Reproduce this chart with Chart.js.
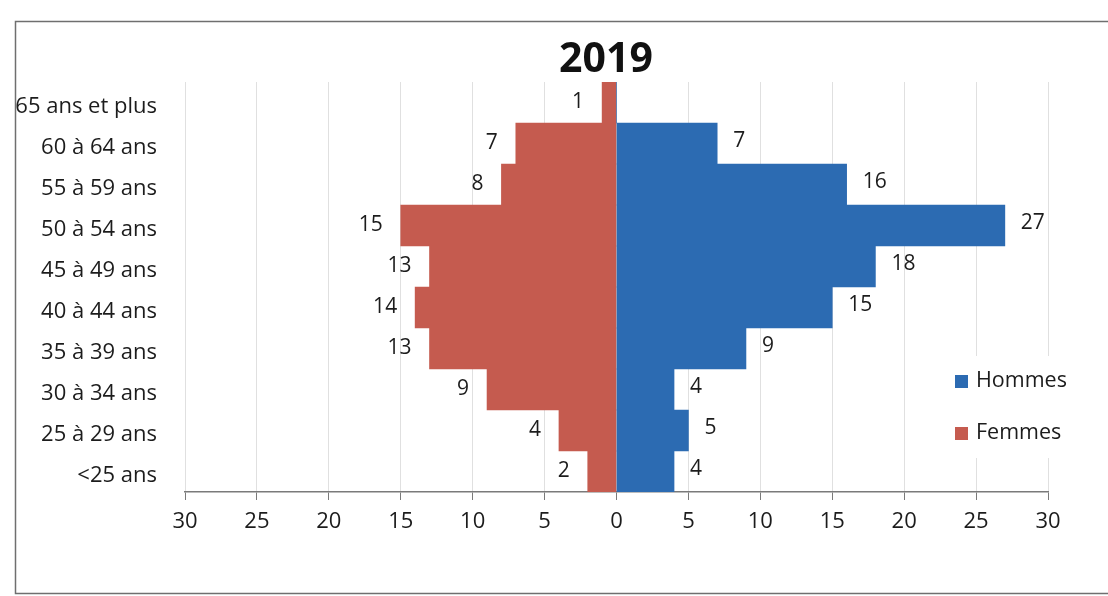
<!DOCTYPE html>
<html><head><meta charset="utf-8">
<script src="https://cdn.jsdelivr.net/npm/chart.js@4"></script>
<style>html,body{margin:0;padding:0;background:#fff}#wrap{width:1108px;height:596px;position:relative}</style>
</head><body><div id="wrap"><canvas id="c" width="1108" height="596"></canvas></div>
<script>
const categories = ["65 ans et plus","60 à 64 ans","55 à 59 ans","50 à 54 ans","45 à 49 ans","40 à 44 ans","35 à 39 ans","30 à 34 ans","25 à 29 ans","<25 ans"];
const hommes = [0,7,16,27,18,15,9,4,5,4];
const femmes = [1,7,8,15,13,14,13,9,4,2];
const titleText = "2019";
const seriesNames = ["Hommes","Femmes"];

const FONT = "'Open Sans', sans-serif";
const TEXT = '#1c1c1c';

const framePlugin = {
  id: 'frame',
  beforeDraw(chart) {
    const ctx = chart.ctx;
    ctx.save();
    ctx.fillStyle = '#fff';
    ctx.fillRect(0,0,chart.width,chart.height);
    ctx.strokeStyle = '#6f6f6f';
    ctx.lineWidth = 1.5;
    ctx.strokeRect(15.5, 21.5, 1110, 572);
    ctx.restore();
  }
};

const titlePlugin = {
  id: 'titleText',
  afterDraw(chart) {
    const ctx = chart.ctx;
    ctx.save();
    ctx.font = "bold 41px " + FONT;
    ctx.fillStyle = '#111';
    ctx.textAlign = 'center';
    ctx.textBaseline = 'middle';
    ctx.fillText(titleText, 606, 60);
    ctx.restore();
  }
};

const labelPlugin = {
  id: 'valLabels',
  afterDatasetsDraw(chart) {
    const ctx = chart.ctx;
    ctx.save();
    ctx.font = "21px " + FONT;
    ctx.fillStyle = TEXT;
    ctx.textBaseline = 'middle';
    chart.data.datasets.forEach((ds, di) => {
      const meta = chart.getDatasetMeta(di);
      meta.data.forEach((bar, i) => {
        const v = ds.data[i];
        if (!v) return;
        const txt = String(Math.abs(v));
        if (v > 0) { ctx.textAlign = 'left'; ctx.fillText(txt, bar.x + 16, bar.y - 2); }
        else { ctx.textAlign = 'right'; ctx.fillText(txt, bar.x - 18, bar.y); }
      });
    });
    ctx.restore();
  }
};

const legendPlugin = {
  id: 'customLegend',
  afterDraw(chart) {
    const ctx = chart.ctx;
    ctx.save();
    ctx.fillStyle = '#fff';
    ctx.fillRect(922, 356, 186, 102);
    ctx.font = "21.5px " + FONT;
    ctx.textBaseline = 'middle';
    ctx.textAlign = 'left';
    chart.data.datasets.forEach((ds, i) => {
      const y = 381 + i * 52;
      ctx.fillStyle = ds.backgroundColor;
      ctx.fillRect(955, y - 6, 13, 13);
      ctx.fillStyle = TEXT;
      ctx.fillText(ds.label, 976, y);
    });
    ctx.restore();
  }
};

new Chart(document.getElementById('c'), {
  type: 'bar',
  data: {
    labels: categories,
    datasets: [
      { label: seriesNames[0], data: hommes, backgroundColor: '#2C6BB2', barPercentage: 1, categoryPercentage: 1, borderWidth: 0 },
      { label: seriesNames[1], data: femmes.map(v => -v), backgroundColor: '#C55B4F', barPercentage: 1, categoryPercentage: 1, borderWidth: 0 }
    ]
  },
  options: {
    indexAxis: 'y',
    responsive: false,
    animation: false,
    devicePixelRatio: 1,
    layout: { padding: { left: 0, right: 60, top: 82, bottom: 0 } },
    plugins: {
      legend: { display: false },
      tooltip: { enabled: false },
      title: { display: false }
    },
    scales: {
      x: {
        stacked: true, min: -30, max: 30,
        ticks: { stepSize: 5, callback: v => Math.abs(v), color: TEXT, font: { family: FONT, size: 22 }, padding: 9, maxRotation: 0 },
        grid: { color: '#e0e0e0', tickColor: '#7a7a7a', tickLength: 8, drawOnChartArea: true },
        border: { color: '#7a7a7a', width: 1.5 },
        afterFit(s) { s.height = 104; }
      },
      y: {
        stacked: true,
        ticks: { color: TEXT, font: { family: FONT, size: 22 }, padding: 28, autoSkip: false, labelOffset: 4 },
        grid: { display: false, drawTicks: false },
        border: { display: false },
        afterFit(s) { s.width = 185; }
      }
    }
  },
  plugins: [framePlugin, labelPlugin, legendPlugin, titlePlugin]
});
</script>
</body></html>
